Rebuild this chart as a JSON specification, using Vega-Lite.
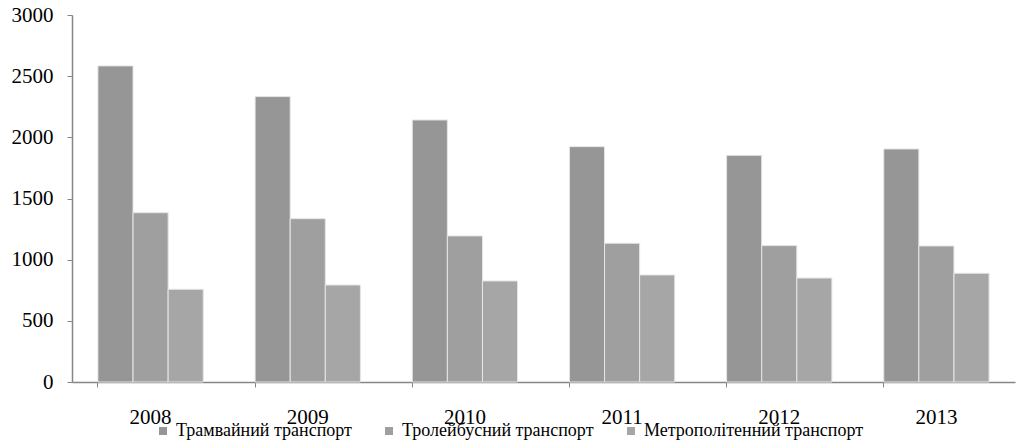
{
  "$schema": "https://vega.github.io/schema/vega-lite/v6.json",
  "autosize": {"type": "none"},
  "padding": {"left": 72, "top": 15, "right": 1, "bottom": 60},
  "width": 943,
  "height": 367,
  "background": "white",
  "config": {
    "view": {"stroke": null},
    "font": "Liberation Serif, Times New Roman, serif",
    "axis": {"labelFont": "Liberation Serif, Times New Roman, serif"},
    "legend": {"labelFont": "Liberation Serif, Times New Roman, serif"}
  },
  "data": {
    "values": [
      {"year": "2008", "type": "Трамвайний транспорт", "value": 2584},
      {"year": "2008", "type": "Тролейбусний транспорт", "value": 1384},
      {"year": "2008", "type": "Метрополітенний транспорт", "value": 758},
      {"year": "2009", "type": "Трамвайний транспорт", "value": 2333},
      {"year": "2009", "type": "Тролейбусний транспорт", "value": 1335},
      {"year": "2009", "type": "Метрополітенний транспорт", "value": 793},
      {"year": "2010", "type": "Трамвайний транспорт", "value": 2142},
      {"year": "2010", "type": "Тролейбусний транспорт", "value": 1194},
      {"year": "2010", "type": "Метрополітенний транспорт", "value": 826},
      {"year": "2011", "type": "Трамвайний транспорт", "value": 1924},
      {"year": "2011", "type": "Тролейбусний транспорт", "value": 1134},
      {"year": "2011", "type": "Метрополітенний транспорт", "value": 875},
      {"year": "2012", "type": "Трамвайний транспорт", "value": 1853},
      {"year": "2012", "type": "Тролейбусний транспорт", "value": 1115},
      {"year": "2012", "type": "Метрополітенний транспорт", "value": 850},
      {"year": "2013", "type": "Трамвайний транспорт", "value": 1905},
      {"year": "2013", "type": "Тролейбусний транспорт", "value": 1112},
      {"year": "2013", "type": "Метрополітенний транспорт", "value": 889}
    ]
  },
  "mark": {"type": "bar", "stroke": "#e6e6e6", "strokeWidth": 1},
  "encoding": {
    "x": {
      "field": "year",
      "type": "nominal",
      "scale": {"paddingInner": 0.33, "paddingOuter": 0.165},
      "axis": {
        "title": null,
        "labelAngle": 0,
        "labelFontSize": 21,
        "labelColor": "black",
        "labelPadding": 19,
        "domainColor": "#868686",
        "domainWidth": 1.5,
        "tickColor": "#868686",
        "tickSize": 5,
        "bandPosition": 0
      }
    },
    "xOffset": {
      "field": "type",
      "type": "nominal",
      "sort": ["Трамвайний транспорт", "Тролейбусний транспорт", "Метрополітенний транспорт"]
    },
    "y": {
      "field": "value",
      "type": "quantitative",
      "scale": {"domain": [0, 3000], "nice": false},
      "axis": {
        "title": null,
        "values": [0, 500, 1000, 1500, 2000, 2500, 3000],
        "format": "d",
        "grid": false,
        "labelFontSize": 21,
        "labelColor": "black",
        "labelPadding": 14,
        "domainColor": "#868686",
        "domainWidth": 1.5,
        "tickColor": "#868686",
        "tickSize": 5
      }
    },
    "color": {
      "field": "type",
      "type": "nominal",
      "sort": ["Трамвайний транспорт", "Тролейбусний транспорт", "Метрополітенний транспорт"],
      "scale": {
        "domain": ["Трамвайний транспорт", "Тролейбусний транспорт", "Метрополітенний транспорт"],
        "range": ["#969696", "#9f9f9f", "#a6a6a6"]
      },
      "legend": {
        "title": null,
        "orient": "none",
        "direction": "horizontal",
        "legendX": 82,
        "legendY": 407,
        "symbolType": "square",
        "symbolSize": 64,
        "symbolStrokeWidth": 0,
        "labelFontSize": 18,
        "labelLimit": 0,
        "labelColor": "black",
        "labelOffset": 4,
        "columnPadding": 28
      }
    }
  }
}
